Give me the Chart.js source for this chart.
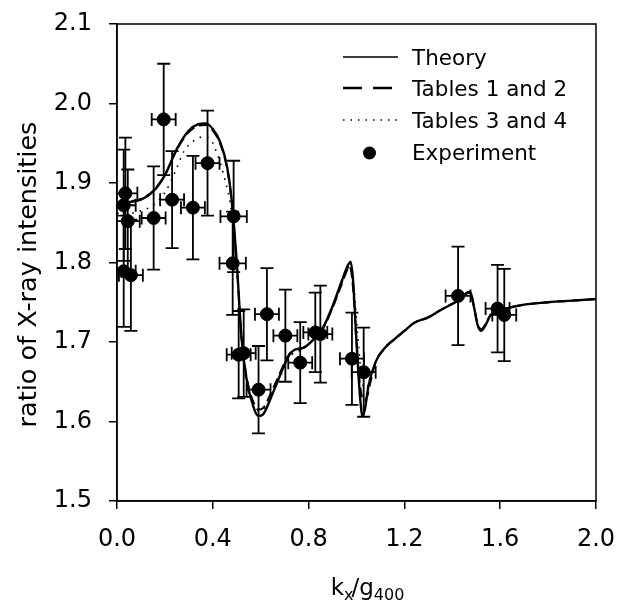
<!DOCTYPE html>
<html>
<head>
<meta charset="utf-8">
<script src="https://cdn.jsdelivr.net/npm/chart.js@4/dist/chart.umd.min.js"></script>
<style>
  html, body { margin: 0; padding: 0; background: #fff; }
  #wrap { width: 619px; height: 606px; position: relative; }
</style>
</head>
<body>
<div id="wrap"><canvas id="chart" width="619" height="606"></canvas></div>
<script>
// x ticks / y ticks
const xTicks = [0.0, 0.4, 0.8, 1.2, 1.6, 2.0];
const yTicks = [1.5, 1.6, 1.7, 1.8, 1.9, 2.0, 2.1];

// Theory curve
const theoryX = [0.00, 0.05, 0.10, 0.15, 0.20, 0.25, 0.30, 0.34, 0.37, 0.40, 0.43, 0.46, 0.48, 0.50, 0.52, 0.54, 0.57, 0.59, 0.61, 0.64, 0.67, 0.70, 0.72, 0.74, 0.78, 0.82, 0.86, 0.90, 0.94, 0.965, 0.975, 0.985, 1.00, 1.015, 1.025, 1.035, 1.05, 1.08, 1.12, 1.16, 1.20, 1.24, 1.30, 1.35, 1.40, 1.43, 1.46, 1.475, 1.49, 1.505, 1.52, 1.54, 1.56, 1.60, 1.65, 1.70, 1.80, 1.90, 2.00];
const theoryY = [1.875, 1.876, 1.879, 1.889, 1.910, 1.943, 1.966, 1.974, 1.975, 1.968, 1.952, 1.920, 1.875, 1.800, 1.705, 1.655, 1.618, 1.607, 1.609, 1.628, 1.650, 1.672, 1.684, 1.690, 1.693, 1.703, 1.718, 1.745, 1.778, 1.797, 1.801, 1.780, 1.700, 1.630, 1.607, 1.615, 1.645, 1.675, 1.693, 1.704, 1.714, 1.724, 1.731, 1.740, 1.748, 1.753, 1.762, 1.763, 1.745, 1.722, 1.714, 1.722, 1.734, 1.740, 1.744, 1.747, 1.750, 1.752, 1.754];

// Tables 1 and 2 (dashed)
const tab12X = [0.00, 0.05, 0.10, 0.15, 0.20, 0.25, 0.30, 0.34, 0.37, 0.40, 0.43, 0.46, 0.48, 0.50, 0.52, 0.54, 0.57, 0.59, 0.61, 0.64, 0.67, 0.70, 0.72, 0.74, 0.78, 0.82, 0.86, 0.90, 0.94, 0.96, 0.972, 0.985, 1.00, 1.015, 1.03, 1.045, 1.06, 1.08, 1.12, 1.16, 1.20, 1.24, 1.30, 1.35, 1.40, 1.43, 1.46, 1.475, 1.49, 1.505, 1.52, 1.54, 1.56, 1.60, 1.65, 1.70, 1.80, 1.90, 2.00];
const tab12Y = [1.876, 1.877, 1.880, 1.890, 1.910, 1.942, 1.964, 1.972, 1.973, 1.966, 1.950, 1.918, 1.873, 1.798, 1.706, 1.658, 1.624, 1.615, 1.617, 1.634, 1.654, 1.674, 1.685, 1.690, 1.693, 1.703, 1.717, 1.743, 1.774, 1.790, 1.795, 1.770, 1.700, 1.645, 1.626, 1.632, 1.652, 1.675, 1.693, 1.704, 1.714, 1.724, 1.731, 1.740, 1.748, 1.753, 1.761, 1.762, 1.745, 1.724, 1.716, 1.723, 1.734, 1.740, 1.744, 1.747, 1.750, 1.752, 1.754];

// Tables 3 and 4 (dotted)
const tab34X = [0.00, 0.05, 0.10, 0.15, 0.20, 0.24, 0.28, 0.32, 0.36, 0.39, 0.42, 0.45, 0.48, 0.50, 0.52, 0.54, 0.57, 0.59, 0.62, 0.65, 0.70, 0.73, 0.78, 0.82, 0.86, 0.90, 0.94, 0.965, 0.975, 0.99, 1.01, 1.025, 1.04, 1.06, 1.08, 1.12, 1.16, 1.20, 1.24, 1.30, 1.35, 1.40, 1.43, 1.46, 1.475, 1.49, 1.505, 1.52, 1.54, 1.56, 1.60, 1.65, 1.70, 1.80, 1.90, 2.00];
const tab34Y = [1.862, 1.862, 1.865, 1.872, 1.888, 1.912, 1.940, 1.953, 1.958, 1.955, 1.935, 1.905, 1.860, 1.790, 1.700, 1.650, 1.620, 1.614, 1.618, 1.636, 1.668, 1.684, 1.692, 1.703, 1.718, 1.743, 1.775, 1.792, 1.795, 1.765, 1.690, 1.648, 1.642, 1.655, 1.675, 1.693, 1.704, 1.714, 1.724, 1.731, 1.740, 1.748, 1.753, 1.761, 1.762, 1.745, 1.724, 1.716, 1.723, 1.734, 1.740, 1.744, 1.747, 1.750, 1.752, 1.754];

// Experiment points with error bars
const expX = [0.035, 0.028, 0.045, 0.028, 0.058, 0.153, 0.195, 0.230, 0.317, 0.378, 0.487, 0.483, 0.508, 0.529, 0.591, 0.626, 0.703, 0.765, 0.828, 0.849, 0.981, 1.030, 1.424, 1.589, 1.617];
const expY = [1.887, 1.872, 1.852, 1.789, 1.784, 1.856, 1.980, 1.879, 1.869, 1.925, 1.858, 1.799, 1.684, 1.686, 1.640, 1.735, 1.708, 1.674, 1.712, 1.710, 1.679, 1.662, 1.758, 1.742, 1.734];
const expYErr = [0.070, 0.070, 0.065, 0.070, 0.070, 0.065, 0.070, 0.061, 0.065, 0.066, 0.070, 0.065, 0.055, 0.055, 0.055, 0.058, 0.058, 0.051, 0.050, 0.061, 0.058, 0.056, 0.062, 0.055, 0.058];
const expXErr = [0.05, 0.05, 0.05, 0.05, 0.05, 0.05, 0.05, 0.05, 0.05, 0.05, 0.055, 0.055, 0.05, 0.05, 0.05, 0.05, 0.05, 0.05, 0.05, 0.05, 0.05, 0.05, 0.052, 0.05, 0.05];

const legendLabels = ['Theory', 'Tables 1 and 2', 'Tables 3 and 4', 'Experiment'];
const yTitle = 'ratio of X-ray intensities';

const FONT = '"DejaVu Sans", "Liberation Sans", Arial, sans-serif';

function toPoints(xs, ys) {
    return xs.map((x, i) => ({ x: x, y: ys[i] }));
}

// error bars, drawn with the chart's scales
const errorBars = {
    id: 'errorBars',
    beforeDatasetsDraw(chart) {
        const ctx = chart.ctx;
        const xs = chart.scales.x, ys = chart.scales.y;
        const a = chart.chartArea;
        ctx.save();
        ctx.beginPath();
        ctx.rect(a.left, a.top, a.right - a.left, a.bottom - a.top);
        ctx.clip();
        ctx.strokeStyle = '#000';
        ctx.lineWidth = 1.8;
        const cap = 6.5;
        expX.forEach((x, i) => {
            const px = xs.getPixelForValue(x);
            const py = ys.getPixelForValue(expY[i]);
            const top = ys.getPixelForValue(expY[i] + expYErr[i]);
            const bot = ys.getPixelForValue(expY[i] - expYErr[i]);
            const lft = xs.getPixelForValue(x - expXErr[i]);
            const rgt = xs.getPixelForValue(x + expXErr[i]);
            ctx.beginPath();
            ctx.moveTo(px, top); ctx.lineTo(px, bot);
            ctx.moveTo(px - cap, top); ctx.lineTo(px + cap, top);
            ctx.moveTo(px - cap, bot); ctx.lineTo(px + cap, bot);
            ctx.moveTo(lft, py); ctx.lineTo(rgt, py);
            ctx.moveTo(lft, py - cap); ctx.lineTo(lft, py + cap);
            ctx.moveTo(rgt, py - cap); ctx.lineTo(rgt, py + cap);
            ctx.stroke();
        });
        ctx.restore();
    }
};

// frame, legend and axis titles
const decorations = {
    id: 'decorations',
    afterDraw(chart) {
        const ctx = chart.ctx;
        const a = chart.chartArea;
        ctx.save();
        ctx.strokeStyle = '#000';
        ctx.lineWidth = 1.5;
        ctx.strokeRect(a.left, a.top, a.right - a.left, a.bottom - a.top);

        // legend
        const ds = chart.data.datasets;
        const x0 = a.left + 226, x1 = a.left + 281, tx = a.left + 295;
        const rowY = [a.top + 33, a.top + 64, a.top + 96, a.top + 128];
        ctx.fillStyle = '#000';
        ctx.font = '21.5px ' + FONT;
        ctx.textBaseline = 'middle';
        ctx.textAlign = 'left';
        for (let i = 0; i < 4; i++) {
            const y = rowY[i];
            if (i < 3) {
                ctx.save();
                ctx.lineWidth = [1.5, 2.5, 1.4][i];
                ctx.setLineDash([[], [19, 11], [1.5, 6]][i]);
                ctx.beginPath();
                ctx.moveTo(x0, y); ctx.lineTo(x1, y);
                ctx.stroke();
                ctx.restore();
            } else {
                ctx.beginPath();
                ctx.arc((x0 + x1) / 2 - 1, y + 1, ds[3].pointRadius, 0, Math.PI * 2);
                ctx.fill();
            }
            ctx.fillText(legendLabels[i], tx, y + 2);
        }

        // y-axis title (sits a little below the plot centre in the original)
        ctx.save();
        ctx.translate(29, (a.top + a.bottom) / 2 + 12);
        ctx.rotate(-Math.PI / 2);
        ctx.font = '25.5px ' + FONT;
        ctx.textAlign = 'center';
        ctx.textBaseline = 'middle';
        ctx.fillText(yTitle, 0, 0);
        ctx.restore();

        // x-axis title: k_x / g_400
        const cx = (a.left + a.right) / 2 + 12;
        const base = a.bottom + 94;
        const big = '23px ' + FONT, small = '16px ' + FONT;
        const parts = [['k', big, 0], ['x', small, 5], ['/', big, 0], ['g', big, 0], ['400', small, 5]];
        let w = 0;
        parts.forEach(p => { ctx.font = p[1]; w += ctx.measureText(p[0]).width; });
        let x = cx - w / 2;
        ctx.textBaseline = 'alphabetic';
        ctx.textAlign = 'left';
        parts.forEach(p => {
            ctx.font = p[1];
            ctx.fillText(p[0], x, base + p[2]);
            x += ctx.measureText(p[0]).width - (p[0] === 'x' ? 2 : 0);
        });
        ctx.restore();
    }
};

new Chart(document.getElementById('chart'), {
    type: 'line',
    data: {
        datasets: [
            {
                label: legendLabels[0],
                data: toPoints(theoryX, theoryY),
                borderColor: '#000', borderWidth: 2.4,
                pointRadius: 0, cubicInterpolationMode: 'monotone', order: 1
            },
            {
                label: legendLabels[1],
                data: toPoints(tab12X, tab12Y),
                borderColor: '#000', borderWidth: 2, borderDash: [10, 5],
                pointRadius: 0, cubicInterpolationMode: 'monotone', order: 2
            },
            {
                label: legendLabels[2],
                data: toPoints(tab34X, tab34Y),
                borderColor: '#000', borderWidth: 1.6, borderDash: [1.6, 6],
                pointRadius: 0, cubicInterpolationMode: 'monotone', order: 3
            },
            {
                type: 'scatter',
                label: legendLabels[3],
                data: toPoints(expX, expY),
                backgroundColor: '#000', borderColor: '#000',
                pointRadius: 6.5, pointHoverRadius: 6.5, showLine: false, order: 0
            }
        ]
    },
    options: {
        responsive: false,
        animation: false,
        events: [],
        layout: { padding: { top: 24, right: 23, left: 0, bottom: 0 } },
        plugins: { legend: { display: false }, tooltip: { enabled: false } },
        scales: {
            x: {
                type: 'linear', min: 0, max: 2,
                afterFit(s) { s.height = 105; s.paddingLeft = 0; s.paddingRight = 0; },
                afterBuildTicks(s) { s.ticks = xTicks.map(v => ({ value: v })); },
                grid: { drawOnChartArea: false, drawTicks: true, tickLength: 8, color: '#000', lineWidth: 1.5 },
                border: { display: true, color: '#000', width: 1.5 },
                ticks: {
                    color: '#000', padding: 16, maxRotation: 0,
                    font: { family: FONT, size: 24 },
                    callback: v => v.toFixed(1)
                }
            },
            y: {
                type: 'linear', min: 1.5, max: 2.1,
                afterFit(s) { s.width = 117; s.paddingTop = 0; s.paddingBottom = 0; },
                afterBuildTicks(s) { s.ticks = yTicks.map(v => ({ value: v })); },
                grid: { drawOnChartArea: false, drawTicks: true, tickLength: 8, color: '#000', lineWidth: 1.5 },
                border: { display: true, color: '#000', width: 1.5 },
                ticks: {
                    color: '#000', padding: 17,
                    font: { family: FONT, size: 24 },
                    callback: v => v.toFixed(1)
                }
            }
        }
    },
    plugins: [errorBars, decorations]
});
</script>
</body>
</html>
